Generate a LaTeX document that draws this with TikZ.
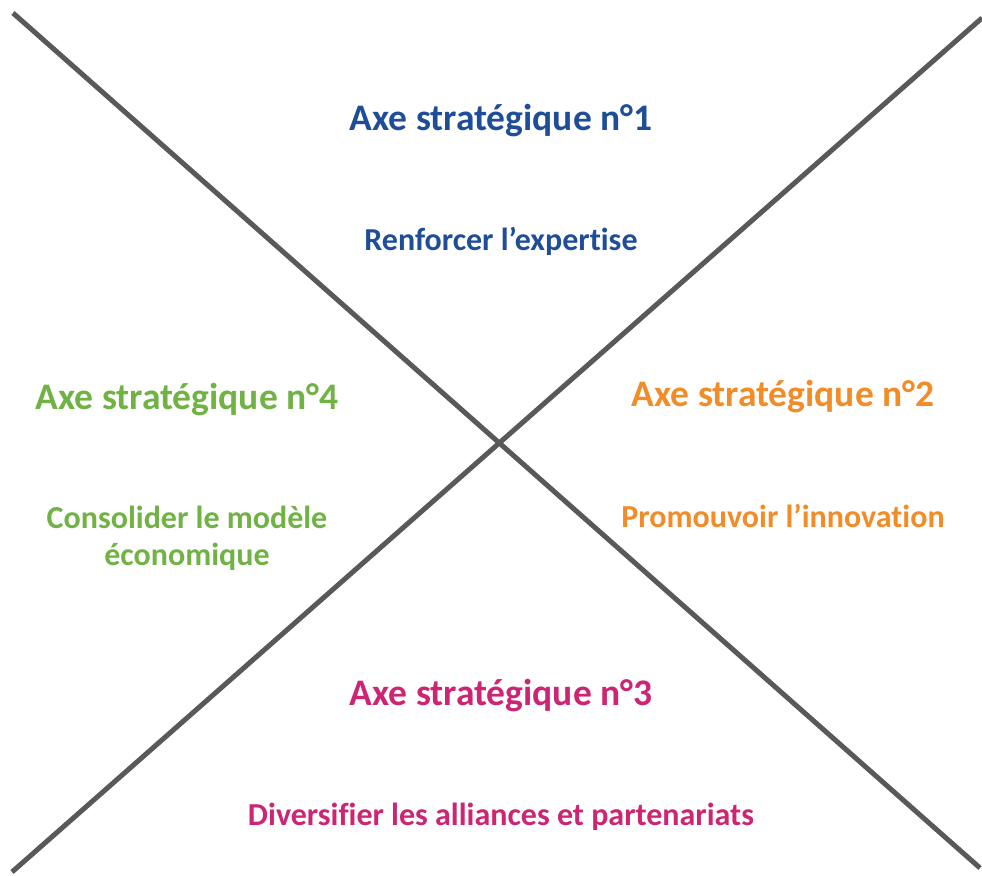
\documentclass[tikz,border=0pt]{standalone}
\usepackage{fontspec}
\setmainfont{Carlito}[Ligatures={NoCommon,TeX}]
\definecolor{axeblue}{HTML}{1F4E99}
\definecolor{axeorange}{HTML}{F28C28}
\definecolor{axegreen}{HTML}{70B244}
\definecolor{axepink}{HTML}{CC2574}
\definecolor{linegray}{HTML}{595959}
\begin{document}
\begin{tikzpicture}[x=1pt,y=-1pt,
  title/.style={font=\fontsize{37.5}{42}\selectfont\bfseries, inner sep=0pt, anchor=center},
  sub/.style={font=\fontsize{32}{37}\selectfont\bfseries, inner sep=0pt, anchor=center, align=center},
  cross/.style={draw=linegray, line width=5pt}]
\useasboundingbox (0,0) rectangle (982,875);
\coordinate (tl) at (13,13);
\coordinate (br) at (980,868);
\coordinate (bl) at (12,872);
\coordinate (tr) at (982,18);
\draw[cross] (tl) -- (br);
\draw[cross] (bl) -- (tr);
\node[title, text=axeblue] (t1) at (501,121) {Axe stratégique n°1};
\node[sub, text=axeblue] (s1) at (501,241) {Renforcer l’expertise};
\node[title, text=axeorange] (t2) at (783,397) {Axe stratégique n°2};
\node[sub, text=axeorange] (s2) at (783,516) {Promouvoir l’innovation};
\node[title, text=axepink] (t3) at (501,696) {Axe stratégique n°3};
\node[sub, text=axepink] (s3) at (501,817) {Diversifier les alliances et partenariats};
\node[title, text=axegreen] (t4) at (187,400) {Axe stratégique n°4};
\node[sub, text=axegreen] (s4) at (187,538) {Consolider le modèle\\économique};
\end{tikzpicture}
\end{document}
